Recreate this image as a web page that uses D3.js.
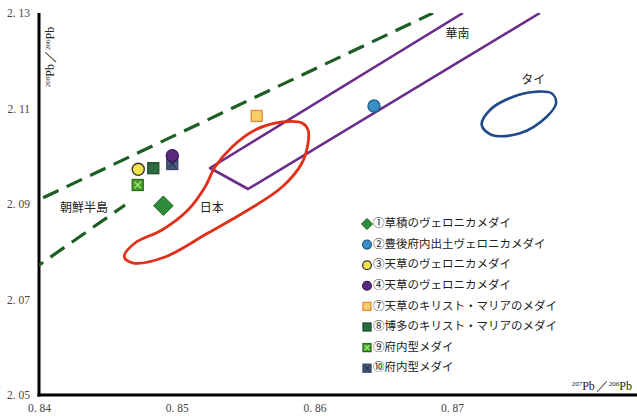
<!DOCTYPE html>
<html><head><meta charset="utf-8">
<script src="https://cdn.jsdelivr.net/npm/d3@7"></script>
<style>
html,body{margin:0;padding:0;background:#fff;}
svg{display:block;}
</style></head>
<body>
<script>
// ---- data ----
const xTicks = [0.84, 0.85, 0.86, 0.87];
const yTicks = [2.05, 2.07, 2.09, 2.11, 2.13];

// sample points [x = 207Pb/206Pb, y = 208Pb/206Pb]
const sampleIds = ["①","②","③","④","⑦","⑧","⑨","⑩"];
const sampleNames = ["草積のヴェロニカメダイ","豊後府内出土ヴェロニカメダイ","天草のヴェロニカメダイ","天草のヴェロニカメダイ","天草のキリスト・マリアのメダイ","博多のキリスト・マリアのメダイ","府内型メダイ","府内型メダイ"];
const sampleX = [0.84903, 0.86433, 0.84721, 0.84968, 0.85581, 0.84830, 0.84717, 0.84968];
const sampleY = [2.08964, 2.11052, 2.09727, 2.10012, 2.10843, 2.09750, 2.09398, 2.09838];
const sampleShape = ["diamond","circle","circle","circle","square","square","xsquare","xsquare"];

// region outlines
const koreaUpperX = [0.8403, 0.86861];
const koreaUpperY = [2.0913, 2.13];
const koreaLowerX = [0.84, 0.84625];
const koreaLowerY = [2.0772, 2.0898];

const southChinaX = [0.87079, 0.85242, 0.85518, 0.87638];
const southChinaY = [2.13, 2.09754, 2.09314, 2.13];

const japanX = [0.84619,0.84683,0.84915,0.85227,0.85518,0.85765,0.85910,0.85954,0.85954,0.85910,0.85765,0.85569,0.85402,0.85278,0.85206,0.85082,0.84893,0.84697];
const japanY = [2.07896,2.07764,2.07890,2.08393,2.08874,2.09356,2.09859,2.10277,2.10550,2.10696,2.10717,2.10550,2.10194,2.09775,2.09356,2.08874,2.08455,2.08183];

const thaiX = [0.87723,0.87755,0.87687,0.87493,0.87288,0.87215,0.87275,0.87444,0.87614];
const thaiY = [2.11318,2.11115,2.10828,2.10481,2.10445,2.10654,2.10969,2.11247,2.11352];

const regionLabels = ["朝鮮半島","日本","華南","タイ"];
const regionLabelX = [0.84327, 0.85255, 0.8704, 0.8759];
const regionLabelY = [2.0891, 2.0890, 2.1255, 2.1158];

// ---- styles ----
const W = 637, H = 416;
const M = {left: 39, top: 13, right: 0, bottom: 21};
const fills = ["#2e8b3a","#3a8fc4","#f2e24a","#5b2a7e","#f7cf6a","#2b6b3f","#46a02c","#4a5d80"];
const strokes = ["#1f6b2a","#1f5f8a","#333333","#3a1a5a","#e8893a","#1e4e2e","#2a6a1a","#344466"];
const crossCol = ["","","","","","","#a8e07a","#2a3650"];

const svg = d3.select("body").append("svg").attr("width", W).attr("height", H);

const x = d3.scaleLinear().domain([0.84, 0.84 + (W - M.left - M.right) / 13770]).range([M.left, W - M.right]);
const y = d3.scaleLinear().domain([2.05, 2.13]).range([H - M.bottom, M.top]);

const fmt = v => d3.format(".2f")(v).replace(".", ". ");

// axes
const xAxis = svg.append("g").attr("transform", `translate(0,${H - M.bottom})`)
  .call(d3.axisBottom(x).tickValues(xTicks).tickSize(0).tickPadding(9).tickFormat(fmt));
const yAxis = svg.append("g").attr("transform", `translate(${M.left},0)`)
  .call(d3.axisLeft(y).tickValues(yTicks).tickSize(0).tickPadding(9).tickFormat(fmt));
[xAxis, yAxis].forEach(g => {
  g.select(".domain").attr("stroke", "#000").attr("stroke-width", 3);
  g.selectAll("text").attr("font-family", "'Liberation Serif','DejaVu Serif',serif")
    .attr("font-size", 11.5).attr("fill", "#444");
});
xAxis.select(".domain").attr("d", `M${M.left - 1.5},0H${W}`);
yAxis.select(".domain").attr("d", `M0,${M.top}V${H - M.bottom + 1.5}`);

const line = d3.line().x(d => x(d[0])).y(d => y(d[1]));
const zip = (a, b) => a.map((v, i) => [v, b[i]]);

const plot = svg.append("g");
plot.append("clipPath").attr("id","clip").append("rect")
  .attr("x", M.left).attr("y", M.top).attr("width", W - M.left).attr("height", H - M.bottom - M.top);
const g = plot.append("g").attr("clip-path", "url(#clip)");

// Korea dashed lines
[[koreaUpperX, koreaUpperY, 0],[koreaLowerX, koreaLowerY, 12]].forEach(([a,b,off]) => {
  g.append("path").attr("d", line(zip(a,b))).attr("fill","none")
    .attr("stroke","#1d5e22").attr("stroke-width",3.2).attr("stroke-dasharray","17,9")
    .attr("stroke-dashoffset", off);
});
// South China
g.append("path").attr("d", line(zip(southChinaX, southChinaY))).attr("fill","none")
  .attr("stroke","#6b2c8a").attr("stroke-width",2.6).attr("stroke-linejoin","round");
// Japan
g.append("path").attr("d", d3.line().curve(d3.curveCatmullRomClosed.alpha(0.5)).x(d=>x(d[0])).y(d=>y(d[1]))(zip(japanX, japanY)))
  .attr("fill","none").attr("stroke","#e0301a").attr("stroke-width",2.8);
// Thai
g.append("path").attr("d", d3.line().curve(d3.curveCatmullRomClosed.alpha(0.5)).x(d=>x(d[0])).y(d=>y(d[1]))(zip(thaiX, thaiY)))
  .attr("fill","none").attr("stroke","#1f4a8a").attr("stroke-width",2.6);

// region labels
regionLabels.forEach((t, i) => {
  svg.append("text").attr("x", x(regionLabelX[i])).attr("y", y(regionLabelY[i]))
    .attr("text-anchor","middle").attr("dominant-baseline","middle")
    .attr("font-family","'Noto Sans CJK JP',sans-serif").attr("font-size",12).attr("fill","#222").text(t);
});

// marker drawing
function marker(sel, i, cx, cy, s) {
  const shp = sampleShape[i];
  if (shp === "circle") {
    sel.append("circle").attr("cx",cx).attr("cy",cy).attr("r",s*0.55)
      .attr("fill",fills[i]).attr("stroke",strokes[i]).attr("stroke-width",1.3);
  } else if (shp === "diamond") {
    const r = s*0.7;
    sel.append("path").attr("d",`M${cx},${cy-r}L${cx+r},${cy}L${cx},${cy+r}L${cx-r},${cy}Z`)
      .attr("fill",fills[i]).attr("stroke",strokes[i]).attr("stroke-width",1);
  } else {
    const h = s*0.5;
    sel.append("rect").attr("x",cx-h).attr("y",cy-h).attr("width",2*h).attr("height",2*h)
      .attr("fill",fills[i]).attr("stroke",strokes[i]).attr("stroke-width",1.3);
    if (shp === "xsquare") {
      const k = h*0.6;
      sel.append("path").attr("d",`M${cx-k},${cy-k}L${cx+k},${cy+k}M${cx+k},${cy-k}L${cx-k},${cy+k}`)
        .attr("stroke",crossCol[i]).attr("stroke-width",1.3);
    }
  }
}

// points: draw in order so that ④ circle overlaps ⑩ square as in picture
const order = [0,1,2,4,5,6,7,3];
order.forEach(i => marker(g, i, x(sampleX[i]), y(sampleY[i]), i===0 ? 14 : 11));

// legend
const legY0 = 224, legDy = 20.6, legX = 367;
sampleIds.forEach((id, i) => {
  const ly = legY0 + i*legDy;
  marker(svg, i, legX, ly, 8);
  svg.append("text").attr("x", legX + 6).attr("y", ly).attr("dominant-baseline","middle")
    .attr("font-family","'Noto Sans CJK JP',sans-serif").attr("font-size",11.5).attr("fill","#222")
    .text(id + sampleNames[i]);
});

// axis titles
function isoLabel(sel, a, b) {
  const t = sel.attr("font-family","'Liberation Serif','DejaVu Serif',serif").attr("fill","#222");
  t.append("tspan").attr("font-size",7).attr("dy",-4).text(a);
  t.append("tspan").attr("font-size",12).attr("dy",4).text("Pb");
  t.append("tspan").attr("font-size",13).attr("dx",1).text("／");
  t.append("tspan").attr("font-size",7).attr("dy",-4).text(b);
  t.append("tspan").attr("font-size",12).attr("dy",4).text("Pb");
}
isoLabel(svg.append("text").attr("x", 632).attr("y", 390).attr("text-anchor","end"), "207", "206");
isoLabel(svg.append("text").attr("transform","translate(54,57) rotate(-90)").attr("text-anchor","middle"), "208", "206");
</script>
</body></html>
